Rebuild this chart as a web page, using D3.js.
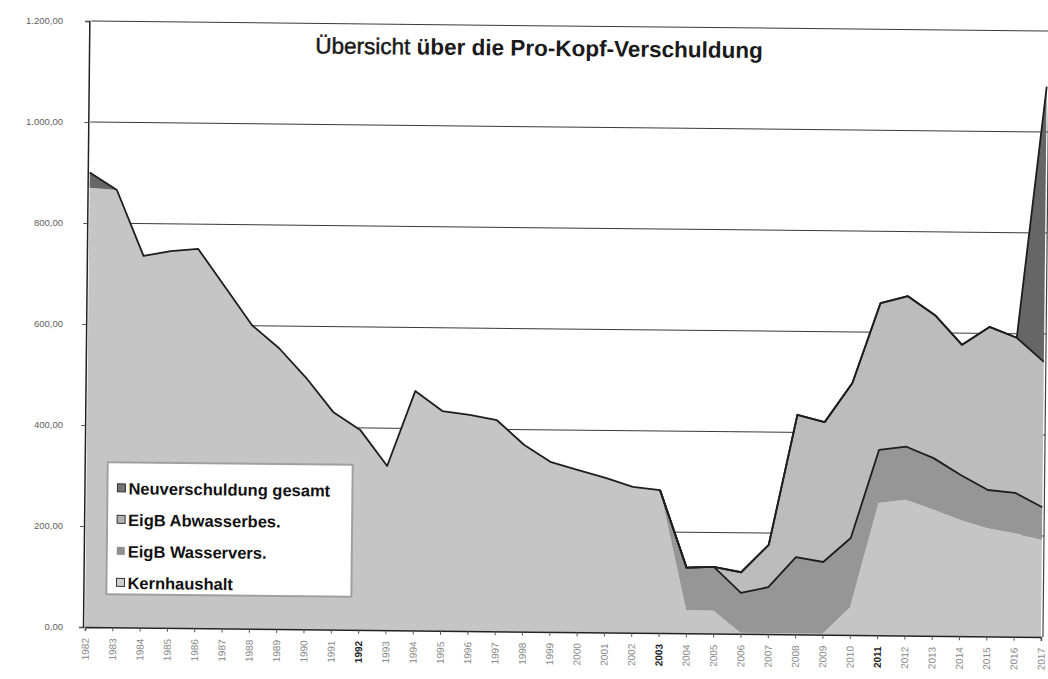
<!DOCTYPE html>
<html>
<head>
<meta charset="utf-8">
<script src="https://cdn.jsdelivr.net/npm/d3@7"></script>
<style>
  body { margin: 0; background: #fff; }
  svg { display: block; font-family: "Liberation Sans", Arial, sans-serif; }
</style>
</head>
<body>
<div id="chart"></div>
<script>
// values (Euro per head)
const years = [1982, 1983, 1984, 1985, 1986, 1987, 1988, 1989, 1990, 1991, 1992, 1993,
  1994, 1995, 1996, 1997, 1998, 1999, 2000, 2001, 2002, 2003, 2004, 2005,
  2006, 2007, 2008, 2009, 2010, 2011, 2012, 2013, 2014, 2015, 2016, 2017]
const boldYears = [1992, 2003, 2011]

const kernhaushalt = [870, 866, 736, 746, 751, 676, 601, 556, 498, 431, 396, 325,
  474, 435, 428, 418, 370, 336, 321, 306, 289, 283, 46, 45,
  2, 2, 2, 2, 55, 262, 269, 250, 230, 214, 205, 192]
const wasservers = [null, null, null, null, null, null, null, null, null, null, null, null,
  null, null, null, null, null, null, null, null, null, 0, 84, 87,
  79, 91, 151, 142, 137, 105, 105, 102, 89, 76, 80, 65]
const abwasserbes = [null, null, null, null, null, null, null, null, null, null, null, null,
  null, null, null, null, null, null, null, null, null, 0, 0, 0,
  41, 84, 282, 277, 307, 291, 298, 283, 258, 323, 307, 288]
const neuverschuldung = [30, 0, 0, 0, 0, 0, 0, 0, 0, 0, 0, 0,
  0, 0, 0, 0, 0, 0, 0, 0, 0, 0, 0, 0,
  0, 0, 0, 0, 0, 0, 0, 0, 0, 0, 0, 545]

const yTicks = [0, 200, 400, 600, 800, 1000, 1200]
const seriesKeys = ['kern', 'wasser', 'abwasser', 'neu']
const seriesNames = ['Kernhaushalt', 'EigB Wasservers.', 'EigB Abwasserbes.', 'Neuverschuldung gesamt']
const titleStart = 'Übersicht '
const titleRest = 'über die Pro-Kopf-Verschuldung'

const colors = { kern: '#c5c5c5', wasser: '#969696', abwasser: '#bcbcbc', neu: '#666666' }
const legendColors = { kern: '#cfcfcf', wasser: '#8e8e8e', abwasser: '#b0b0b0', neu: '#727272' }
const outlined = ['wasser', 'abwasser', 'neu']

const totalWidth = 1048
const totalHeight = 679
const margin = { top: 21, bottom: 52, left: 85, right: 7 }
const tilt = 0.6   // the scan is slightly rotated

const deLocale = d3.formatLocale({ decimal: ',', thousands: '.', grouping: [3], currency: ['', '€'] })
const fmt = deLocale.format(',.2f')

let table = years.map((yr, i) => ({
  year: yr,
  kern: kernhaushalt[i],
  wasser: wasservers[i] ?? 0,
  abwasser: abwasserbes[i] ?? 0,
  neu: neuverschuldung[i],
  hasW: wasservers[i] != null,
  hasA: abwasserbes[i] != null
}))

let x = d3.scaleLinear().domain([years[0], years[years.length - 1]])
  .range([margin.left, totalWidth - margin.right])
let y = d3.scaleLinear().domain([0, 1200])
  .range([totalHeight - margin.bottom, margin.top])

let stacked = d3.stack().keys(seriesKeys)(table)

let svg = d3.select('#chart').append('svg')
  .attr('width', totalWidth)
  .attr('height', totalHeight)

let g = svg.append('g')
  .attr('transform', `rotate(${tilt} ${margin.left} ${y(0)})`)

// gridlines
g.append('g').selectAll('line')
  .data(yTicks.filter(d => d > 0))
  .enter().append('line')
  .attr('x1', x.range()[0]).attr('x2', x.range()[1] + 2)
  .attr('y1', d => y(d)).attr('y2', d => y(d))
  .attr('stroke', '#3a3a3a')
  .attr('stroke-width', 1)

// stacked areas
let area = d3.area()
  .x(d => x(d.data.year))
  .y0(d => y(d[0]))
  .y1(d => y(d[1]))

g.append('g').selectAll('path')
  .data(stacked)
  .enter().append('path')
  .attr('d', area)
  .attr('fill', d => colors[d.key])

// black outlines on top of the outlined series
let topLine = d3.line()
  .defined(d => {
    if (d.key === 'wasser') return d.data.hasW
    if (d.key === 'abwasser') return d.data.hasA
    return true
  })
  .x(d => x(d.data.year))
  .y(d => y(d[1]))

g.append('g').selectAll('path')
  .data(stacked.filter(s => outlined.includes(s.key)))
  .enter().append('path')
  .attr('d', s => topLine(s.map(p => Object.assign(p, { key: s.key }))))
  .attr('fill', 'none')
  .attr('stroke', '#1e1e1e')
  .attr('stroke-width', 1.8)
  .attr('stroke-linejoin', 'round')

// plot frame right side
g.append('line')
  .attr('x1', x.range()[1] + 2).attr('x2', x.range()[1] + 2)
  .attr('y1', y(1200)).attr('y2', y(0))
  .attr('stroke', '#444')
  .attr('stroke-width', 1.2)

// y axis line + ticks (tilted with the scan)
let yAxis = g.append('g')
  .attr('transform', `translate(${margin.left - 2},0)`)
  .call(d3.axisLeft(y).tickValues(yTicks).tickFormat('').tickSize(4))
yAxis.select('.domain').attr('stroke', '#222').attr('stroke-width', 1.5)
yAxis.selectAll('line').attr('stroke', '#555')

// y labels sit upright in the scan
svg.append('g').selectAll('text')
  .data(yTicks)
  .enter().append('text')
  .attr('x', 63)
  .attr('y', d => y(d))
  .attr('dy', '0.35em')
  .attr('text-anchor', 'end')
  .attr('fill', '#5e5e5e')
  .style('font-size', '9.5px')
  .text(fmt)

// x axis
let xAxis = g.append('g')
  .attr('transform', `translate(0,${y(0)})`)
  .call(d3.axisBottom(x).tickValues(years).tickFormat(d => d).tickSize(4))
xAxis.select('.domain').attr('stroke', '#222').attr('stroke-width', 1.5)
xAxis.selectAll('line').attr('stroke', '#555')
xAxis.selectAll('text')
  .attr('transform', 'rotate(-90)')
  .attr('x', -11)
  .attr('y', 0)
  .attr('dy', '0.35em')
  .attr('text-anchor', 'end')
  .attr('fill', d => boldYears.includes(d) ? '#222' : '#8a8a8a')
  .style('font-weight', d => boldYears.includes(d) ? 'bold' : 'normal')
  .style('font-size', '10px')
  .style('font-family', '"Liberation Sans", Arial, sans-serif')

// title
let title = g.append('text')
  .attr('x', 533)
  .attr('y', 51)
  .attr('text-anchor', 'middle')
  .style('font-size', '22.5px')
  .attr('fill', '#1a1a1a')
title.append('tspan')
  .style('font-weight', 'normal')
  .attr('stroke', '#1a1a1a')
  .attr('stroke-width', 0.5)
  .text(titleStart)
title.append('tspan').style('font-weight', 'bold').text(titleRest)

// legend
let legend = g.append('g').attr('transform', 'translate(106,462)')
legend.append('rect')
  .attr('width', 245).attr('height', 132)
  .attr('fill', '#fff')
  .attr('stroke', '#a0a0a0')
  .attr('stroke-width', 2)

let legendOrder = seriesKeys.slice().reverse()
let items = legend.selectAll('g.item')
  .data(legendOrder)
  .enter().append('g')
  .attr('class', 'item')
  .attr('transform', (d, i) => `translate(10,${26 + i * 31.5})`)

items.append('rect')
  .attr('x', 0).attr('y', -4.5)
  .attr('width', 8).attr('height', 8)
  .attr('fill', d => legendColors[d])
  .attr('stroke', d => d === 'wasser' ? 'none' : '#333')
  .attr('stroke-width', 1)

items.append('text')
  .attr('x', 11)
  .attr('dy', '0.36em')
  .style('font-size', '16.5px')
  .style('font-weight', 'bold')
  .attr('fill', '#111')
  .text(d => seriesNames[seriesKeys.indexOf(d)])
</script>
</body>
</html>
